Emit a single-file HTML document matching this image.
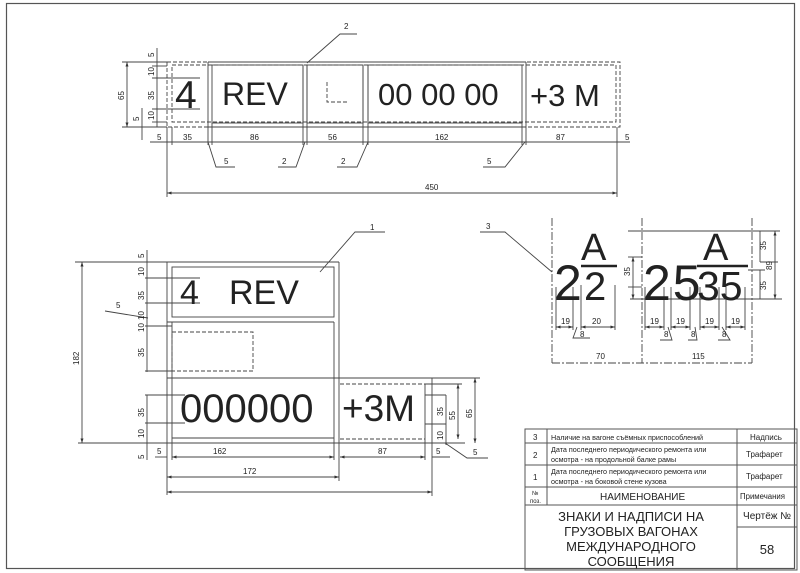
<!DOCTYPE html>
<html><head><meta charset="utf-8"><style>
html,body{margin:0;padding:0;background:#fff;}
svg{display:block;}
text{font-family:"Liberation Sans",sans-serif;fill:#222;}
</style></head><body>
<svg width="800" height="573" viewBox="0 0 800 573" xmlns="http://www.w3.org/2000/svg">
<defs>
<marker id="a" viewBox="0 0 6 6" refX="6" refY="3" markerWidth="5" markerHeight="5" orient="auto-start-reverse"><path d="M0,1L6,3L0,5z" fill="#333"/></marker>
</defs>
<rect x="0" y="0" width="800" height="573" fill="#fff"/>
<rect x="6.5" y="3.5" width="788" height="565" fill="none" stroke="#555" stroke-width="1.2"/>

<g stroke="#444" stroke-width="0.9" fill="none">
<g stroke-dasharray="4,2">
<rect x="167" y="62" width="453" height="65"/>
<rect x="172" y="65" width="444" height="57"/>
</g>
<line x1="208" y1="62" x2="526" y2="62"/>
<line x1="208" y1="127" x2="526" y2="127"/>
<line x1="208" y1="62" x2="208" y2="145"/>
<line x1="526" y1="62" x2="526" y2="145"/>
<rect x="212" y="65" width="91" height="58"/>
<rect x="307" y="65" width="56" height="58"/>
<rect x="368" y="65" width="154" height="58"/>
<line x1="303" y1="65" x2="303" y2="145"/>
<line x1="307" y1="65" x2="307" y2="145"/>
<line x1="363" y1="65" x2="363" y2="145"/>
<line x1="368" y1="65" x2="368" y2="145"/>
<line x1="212" y1="123" x2="212" y2="145"/>
<line x1="522" y1="123" x2="522" y2="145"/>
<path d="M327 82 V102 H347" stroke-dasharray="4,2"/>
<line x1="167" y1="127" x2="167" y2="197"/>
<line x1="617" y1="127" x2="617" y2="197"/>
<line x1="172" y1="127" x2="172" y2="145"/>
<line x1="150" y1="142" x2="630" y2="142"/>
<line x1="167" y1="193" x2="617" y2="193" marker-start="url(#a)" marker-end="url(#a)"/>
<path d="M307 63 L340 34 H357"/>
<path d="M208 142 L216 167 H235"/>
<path d="M305 142 L296 167 H278"/>
<path d="M368 142 L357 167 H337"/>
<path d="M525 142 L505 167 H483"/>
<line x1="157" y1="48" x2="157" y2="127"/>
<line x1="152" y1="62" x2="167" y2="62"/>
<line x1="152" y1="66" x2="167" y2="66"/>
<line x1="152" y1="78" x2="200" y2="78"/>
<line x1="152" y1="109" x2="200" y2="109"/>
<line x1="152" y1="122" x2="167" y2="122"/>
<line x1="122" y1="62" x2="167" y2="62"/>
<line x1="122" y1="127" x2="167" y2="127"/>
<line x1="127" y1="62" x2="127" y2="127" marker-start="url(#a)" marker-end="url(#a)"/>
<line x1="142" y1="108" x2="142" y2="140"/>

<line x1="167" y1="262" x2="167" y2="495"/>
<line x1="339" y1="262" x2="339" y2="481"/>
<line x1="75" y1="262" x2="339" y2="262"/>
<rect x="172" y="267" width="162" height="50"/>
<line x1="167" y1="322" x2="334" y2="322"/>
<line x1="172" y1="322" x2="172" y2="460"/>
<line x1="334" y1="322" x2="334" y2="460"/>
<line x1="167" y1="378" x2="440" y2="378"/>
<line x1="172" y1="438" x2="334" y2="438"/>
<line x1="78" y1="443" x2="465" y2="443"/>
<line x1="432" y1="378" x2="432" y2="496"/>
<line x1="425" y1="384" x2="425" y2="460"/>
<rect x="172" y="332" width="81" height="39" stroke-dasharray="4,2"/>
<path d="M340 384 H425 M340 439 H425" stroke-dasharray="4,2"/>
<line x1="82" y1="262" x2="82" y2="443" marker-start="url(#a)" marker-end="url(#a)"/>
<line x1="172" y1="457" x2="334" y2="457" marker-start="url(#a)" marker-end="url(#a)"/>
<line x1="340" y1="457" x2="425" y2="457" marker-start="url(#a)" marker-end="url(#a)"/>
<line x1="155" y1="457" x2="167" y2="457"/>
<line x1="432" y1="457" x2="450" y2="457"/>
<line x1="167" y1="477" x2="339" y2="477" marker-start="url(#a)" marker-end="url(#a)"/>
<line x1="167" y1="492" x2="432" y2="492" marker-start="url(#a)" marker-end="url(#a)"/>
<line x1="147" y1="250" x2="147" y2="372"/>
<line x1="145" y1="278" x2="200" y2="278"/>
<line x1="145" y1="303" x2="200" y2="303"/>
<line x1="145" y1="326" x2="172" y2="326"/>
<line x1="145" y1="371" x2="172" y2="371"/>
<line x1="145" y1="395" x2="185" y2="395"/>
<line x1="145" y1="423" x2="185" y2="423"/>
<line x1="147" y1="395" x2="147" y2="460"/>
<path d="M105 311 L148 318"/>
<line x1="425" y1="395" x2="446" y2="395"/>
<line x1="425" y1="424" x2="446" y2="424"/>
<line x1="446" y1="395" x2="446" y2="445"/>
<line x1="425" y1="384" x2="462" y2="384"/>
<line x1="458" y1="384" x2="458" y2="439" marker-start="url(#a)" marker-end="url(#a)"/>
<line x1="432" y1="378" x2="480" y2="378"/>
<line x1="475" y1="378" x2="475" y2="443" marker-start="url(#a)" marker-end="url(#a)"/>
<path d="M445 443 L467 458 H488"/>
<path d="M320 272 L355 232 H385"/>

<g stroke-dasharray="8,2,2,2">
<line x1="552" y1="218" x2="552" y2="363"/>
<line x1="642" y1="218" x2="642" y2="363"/>
<line x1="752" y1="218" x2="752" y2="363"/>
<line x1="552" y1="363" x2="752" y2="363"/>
</g>
<path d="M480 232 H505 L552 272"/>
<line x1="581" y1="266" x2="617" y2="266" stroke-width="2.5" stroke="#222"/>
<line x1="697" y1="266" x2="748" y2="266" stroke-width="2.5" stroke="#222"/>
<line x1="628" y1="231" x2="780" y2="231"/>
<line x1="628" y1="257" x2="642" y2="257"/>
<line x1="628" y1="287" x2="642" y2="287"/>
<line x1="630" y1="299" x2="782" y2="299"/>
<line x1="633" y1="257" x2="633" y2="299" marker-start="url(#a)" marker-end="url(#a)"/>
<line x1="760" y1="262" x2="778" y2="262"/>
<line x1="748" y1="270" x2="765" y2="270"/>
<line x1="760" y1="231" x2="760" y2="262"/>
<line x1="760" y1="270" x2="760" y2="299"/>
<line x1="775" y1="231" x2="775" y2="299" marker-start="url(#a)" marker-end="url(#a)"/>
<path d="M556 287 V330 M573 287 V330 M581 285 V330 M615 285 V330"/>
<line x1="556" y1="327" x2="573" y2="327" marker-start="url(#a)" marker-end="url(#a)"/>
<line x1="581" y1="327" x2="615" y2="327" marker-start="url(#a)" marker-end="url(#a)"/>
<path d="M577 327 L573 338 H590"/>
<path d="M645 287 V330 M664 287 V330 M671 287 V330 M690 287 V330 M700 287 V330 M719 287 V330 M726 287 V330 M745 287 V330"/>
<line x1="645" y1="327" x2="664" y2="327" marker-start="url(#a)" marker-end="url(#a)"/>
<line x1="671" y1="327" x2="690" y2="327" marker-start="url(#a)" marker-end="url(#a)"/>
<line x1="700" y1="327" x2="719" y2="327" marker-start="url(#a)" marker-end="url(#a)"/>
<line x1="726" y1="327" x2="745" y2="327" marker-start="url(#a)" marker-end="url(#a)"/>
<path d="M668 327 L672 340 H660 M695 327 L697 340 H688 M722 327 L730 340 H718"/>

<g stroke="#555" stroke-width="1">
<rect x="525" y="429" width="272" height="141"/>
<line x1="525" y1="443" x2="797" y2="443"/>
<line x1="525" y1="465" x2="797" y2="465"/>
<line x1="525" y1="487" x2="797" y2="487"/>
<line x1="525" y1="505" x2="797" y2="505"/>
<line x1="547" y1="429" x2="547" y2="505"/>
<line x1="737" y1="429" x2="737" y2="570"/>
<line x1="737" y1="527" x2="797" y2="527"/>
</g>
</g>

<g font-size="8">
<text x="175" y="108" font-size="39">4</text>
<text x="222" y="105" font-size="32">REV</text>
<text x="378" y="105" font-size="31">00 00 00</text>
<text x="530" y="106" font-size="31">+3 M</text>
<text x="344" y="29">2</text>
<text x="224" y="164">5</text>
<text x="282" y="164">2</text>
<text x="341" y="164">2</text>
<text x="487" y="164">5</text>
<text x="157" y="140">5</text>
<text x="183" y="140">35</text>
<text x="250" y="140">86</text>
<text x="328" y="140">56</text>
<text x="435" y="140">162</text>
<text x="556" y="140">87</text>
<text x="625" y="140">5</text>
<text x="425" y="190">450</text>
<text transform="translate(154,57) rotate(-90)">5</text>
<text transform="translate(154,76) rotate(-90)">10</text>
<text transform="translate(154,100) rotate(-90)">35</text>
<text transform="translate(154,120) rotate(-90)">10</text>
<text transform="translate(139,121) rotate(-90)">5</text>
<text transform="translate(124,100) rotate(-90)">65</text>
<text x="180" y="304" font-size="34">4</text>
<text x="229" y="304" font-size="34">REV</text>
<text x="180" y="422" font-size="40">000000</text>
<text x="342" y="421" font-size="37">+3M</text>
<text x="370" y="230">1</text>
<text x="116" y="308">5</text>
<text x="213" y="454">162</text>
<text x="378" y="454">87</text>
<text x="157" y="454">5</text>
<text x="436" y="454">5</text>
<text x="473" y="455">5</text>
<text x="243" y="474">172</text>
<text transform="translate(79,365) rotate(-90)">182</text>
<text transform="translate(144,258) rotate(-90)">5</text>
<text transform="translate(144,276) rotate(-90)">10</text>
<text transform="translate(144,300) rotate(-90)">35</text>
<text transform="translate(144,320) rotate(-90)">10</text>
<text transform="translate(144,332) rotate(-90)">10</text>
<text transform="translate(144,357) rotate(-90)">35</text>
<text transform="translate(144,417) rotate(-90)">35</text>
<text transform="translate(144,438) rotate(-90)">10</text>
<text transform="translate(144,459) rotate(-90)">5</text>
<text transform="translate(443,416) rotate(-90)">35</text>
<text transform="translate(455,420) rotate(-90)">55</text>
<text transform="translate(472,418) rotate(-90)">65</text>
<text transform="translate(443,440) rotate(-90)">10</text>
<text x="486" y="229">3</text>
<text x="554" y="300" font-size="50">2</text>
<text x="581" y="260" font-size="38">A</text>
<text x="584" y="300" font-size="40">2</text>
<text x="643" y="300" font-size="50" letter-spacing="2">25</text>
<text x="703" y="260" font-size="38">A</text>
<text x="697" y="300" font-size="41">35</text>
<text x="561" y="324">19</text>
<text x="592" y="324">20</text>
<text x="650" y="324">19</text>
<text x="676" y="324">19</text>
<text x="705" y="324">19</text>
<text x="731" y="324">19</text>
<text x="580" y="337">8</text>
<text x="664" y="337">8</text>
<text x="691" y="337">8</text>
<text x="722" y="337">8</text>
<text x="596" y="359">70</text>
<text x="692" y="359">115</text>
<text transform="translate(630,276) rotate(-90)">35</text>
<text transform="translate(766,250) rotate(-90)">35</text>
<text transform="translate(766,290) rotate(-90)">35</text>
<text transform="translate(772,270) rotate(-90)">89</text>
<text x="533" y="440">3</text>
<text x="551" y="440" font-size="7.2">Наличие на вагоне съёмных приспособлений</text>
<text x="750" y="440">Надпись</text>
<text x="533" y="458">2</text>
<text x="551" y="452" font-size="7.2">Дата последнего периодического ремонта или</text>
<text x="551" y="462" font-size="7.2">осмотра - на продольной балке рамы</text>
<text x="746" y="457">Трафарет</text>
<text x="533" y="480">1</text>
<text x="551" y="474" font-size="7.2">Дата последнего периодического ремонта или</text>
<text x="551" y="484" font-size="7.2">осмотра - на боковой стене кузова</text>
<text x="746" y="479">Трафарет</text>
<text x="532" y="495" font-size="6">№</text>
<text x="530" y="503" font-size="6">поз.</text>
<text x="600" y="500" font-size="10">НАИМЕНОВАНИЕ</text>
<text x="740" y="499" font-size="7.8">Примечания</text>
<text x="631" y="521" font-size="13" text-anchor="middle">ЗНАКИ И НАДПИСИ НА</text>
<text x="631" y="536" font-size="13" text-anchor="middle">ГРУЗОВЫХ ВАГОНАХ</text>
<text x="631" y="551" font-size="13" text-anchor="middle">МЕЖДУНАРОДНОГО</text>
<text x="631" y="566" font-size="13" text-anchor="middle">СООБЩЕНИЯ</text>
<text x="767" y="519" font-size="10" text-anchor="middle">Чертёж №</text>
<text x="767" y="554" font-size="13" text-anchor="middle">58</text>
</g>
</svg>
</body></html>
